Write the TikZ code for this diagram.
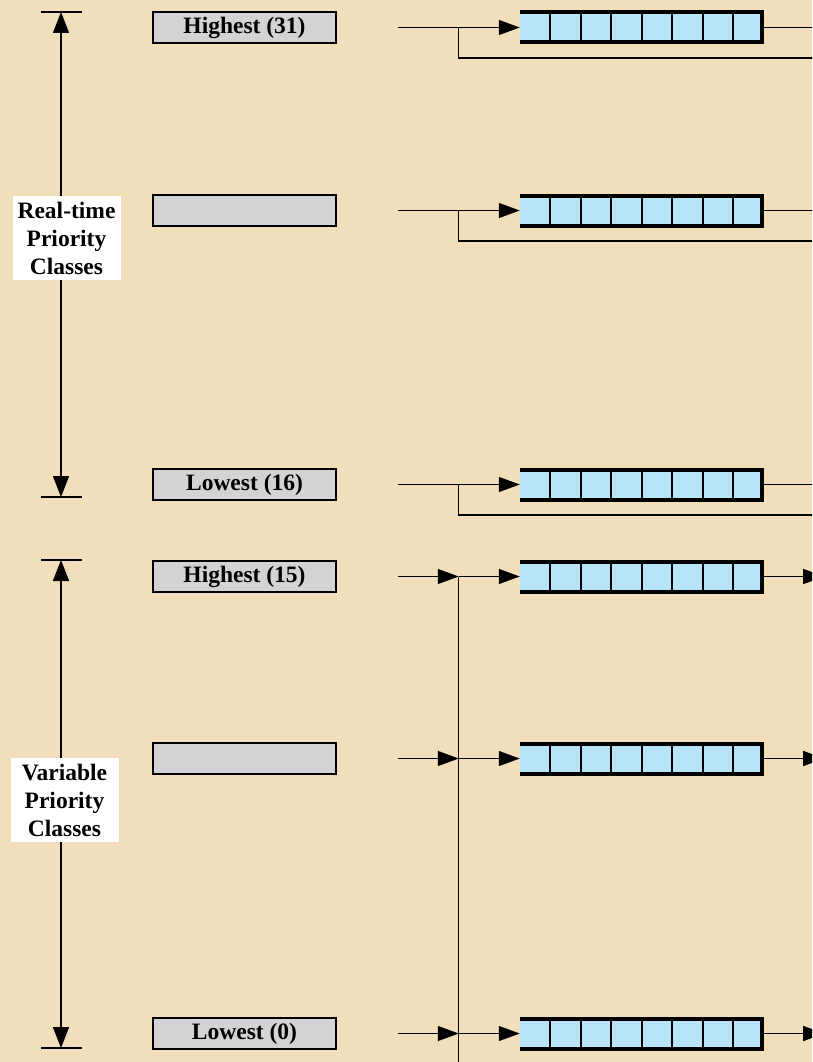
\documentclass[tikz,border=0pt]{standalone}
\usepackage{fontspec}
\setmainfont{Liberation Serif}
\usetikzlibrary{arrows.meta}
\usetikzlibrary{positioning}
\definecolor{parchment}{RGB}{241,223,187}
\definecolor{queueblue}{RGB}{184,228,249}
\definecolor{levelgray}{RGB}{211,211,214}

\begin{document}
\begin{tikzpicture}[x=1pt, y=-1pt,
    level/.style={draw, line width=1.5pt, fill=levelgray, minimum width=183pt, minimum height=31pt, inner sep=0pt, font=\fontsize{23.5}{28}\selectfont\bfseries},
    queue/.style={fill=queueblue, minimum width=244pt, minimum height=33pt, inner sep=0pt,
        path picture={
            \foreach \k in {1,...,7}
                \draw[line width=2pt] ([xshift=\k*30.5pt]path picture bounding box.north west) -- ([xshift=\k*30.5pt]path picture bounding box.south west);
            \draw[line width=7pt] (path picture bounding box.north west) -- (path picture bounding box.north east) -- (path picture bounding box.south east) -- (path picture bounding box.south west);
        }},
    classlabel/.style={fill=white, align=center, minimum width=108pt, minimum height=84pt, inner sep=0pt, font=\fontsize{23.5}{28}\selectfont\bfseries},
    link/.style={line width=1.4pt},
    tip/.style={-{Triangle[length=21pt,width=15pt]}},
    span/.style={{Triangle[length=21pt,width=16pt]}-{Triangle[length=21pt,width=16pt]}}]
        % background
        \fill[parchment] (0,0) rectangle (812,1062);
        \clip (0,0) rectangle (812,1062);

        % nodes (real-time)
        \node[level] (L31) at (244.5,27.5) {Highest (31)};
        \node[level] (Lrt) at (244.5,210.5) {};
        \node[level] (L16) at (244.5,484.5) {Lowest (16)};
        \node[queue, right=183pt of L31] (Q31) {};
        \node[queue, right=183pt of Lrt] (Qrt) {};
        \node[queue, right=183pt of L16] (Q16) {};
        \coordinate[right=61pt of L31] (in31);
        \coordinate[right=61pt of Lrt] (inrt);
        \coordinate[right=61pt of L16] (in16);
        \coordinate[right=122pt of L31] (j31);
        \coordinate[right=122pt of Lrt] (jrt);
        \coordinate[right=122pt of L16] (j16);
        \coordinate[below=30.5pt of j31] (fb31);
        \coordinate[below=30.5pt of jrt] (fbrt);
        \coordinate[below=30.5pt of j16] (fb16);
        \coordinate[right=49pt of Q31] (out31);
        \coordinate[right=49pt of Qrt] (outrt);
        \coordinate[right=49pt of Q16] (out16);
        \coordinate[below=30.5pt of out31] (fbe31);
        \coordinate[below=30.5pt of outrt] (fbert);
        \coordinate[below=30.5pt of out16] (fbe16);

        % edges (real-time)
        \draw[link, tip] (in31) -- (Q31);
        \draw[link, tip] (inrt) -- (Qrt);
        \draw[link, tip] (in16) -- (Q16);
        \draw[link] (Q31) -- (out31);
        \draw[link] (Qrt) -- (outrt);
        \draw[link] (Q16) -- (out16);
        \draw[link] (j31) -- (fb31) -- (fbe31);
        \draw[link] (jrt) -- (fbrt) -- (fbert);
        \draw[link] (j16) -- (fb16) -- (fbe16);

        % nodes (variable)
        \node[level] (L15) at (244.5,576.5) {Highest (15)};
        \node[level] (Lvar) at (244.5,758.5) {};
        \node[level] (L0) at (244.5,1033.5) {Lowest (0)};
        \node[queue, right=183pt of L15] (Q15) {};
        \node[queue, right=183pt of Lvar] (Qvar) {};
        \node[queue, right=183pt of L0] (Q0) {};
        \coordinate[right=61pt of L15] (in15);
        \coordinate[right=61pt of Lvar] (invar);
        \coordinate[right=61pt of L0] (in0);
        \coordinate[right=122pt of L15] (j15);
        \coordinate[right=122pt of Lvar] (jvar);
        \coordinate[right=122pt of L0] (j0);
        \coordinate[below=40pt of j0] (busend);
        \coordinate[right=60pt of Q15] (out15);
        \coordinate[right=60pt of Qvar] (outvar);
        \coordinate[right=60pt of Q0] (out0);

        % edges (variable)
        \draw[link] (j15) -- (busend);
        \draw[link, tip] (in15) -- (j15);
        \draw[link, tip] (invar) -- (jvar);
        \draw[link, tip] (in0) -- (j0);
        \draw[link, tip] (j15) -- (Q15);
        \draw[link, tip] (jvar) -- (Qvar);
        \draw[link, tip] (j0) -- (Q0);
        \draw[link, tip] (Q15) -- (out15);
        \draw[link, tip] (Qvar) -- (outvar);
        \draw[link, tip] (Q0) -- (out0);

        % class ranges
        \coordinate (rttop) at (61,12);
        \coordinate (rtbot) at (61,497);
        \coordinate (vartop) at (61,560);
        \coordinate (varbot) at (61,1048);
        \coordinate[left=20pt of rttop] (rttopl);
        \coordinate[right=21pt of rttop] (rttopr);
        \coordinate[left=20pt of rtbot] (rtbotl);
        \coordinate[right=21pt of rtbot] (rtbotr);
        \coordinate[left=20pt of vartop] (vartopl);
        \coordinate[right=21pt of vartop] (vartopr);
        \coordinate[left=20pt of varbot] (varbotl);
        \coordinate[right=21pt of varbot] (varbotr);
        \draw[link, span] (rttop) -- (rtbot);
        \draw[link, span] (vartop) -- (varbot);
        \draw[link] (rttopl) -- (rttopr);
        \draw[link] (rtbotl) -- (rtbotr);
        \draw[link] (vartopl) -- (vartopr);
        \draw[link] (varbotl) -- (varbotr);
        \node[classlabel] (RT) at (66.5,238) {Real-time\\Priority\\Classes};
        \node[classlabel] (VAR) at (64.5,800) {Variable\\Priority\\Classes};
\end{tikzpicture}
\end{document}
